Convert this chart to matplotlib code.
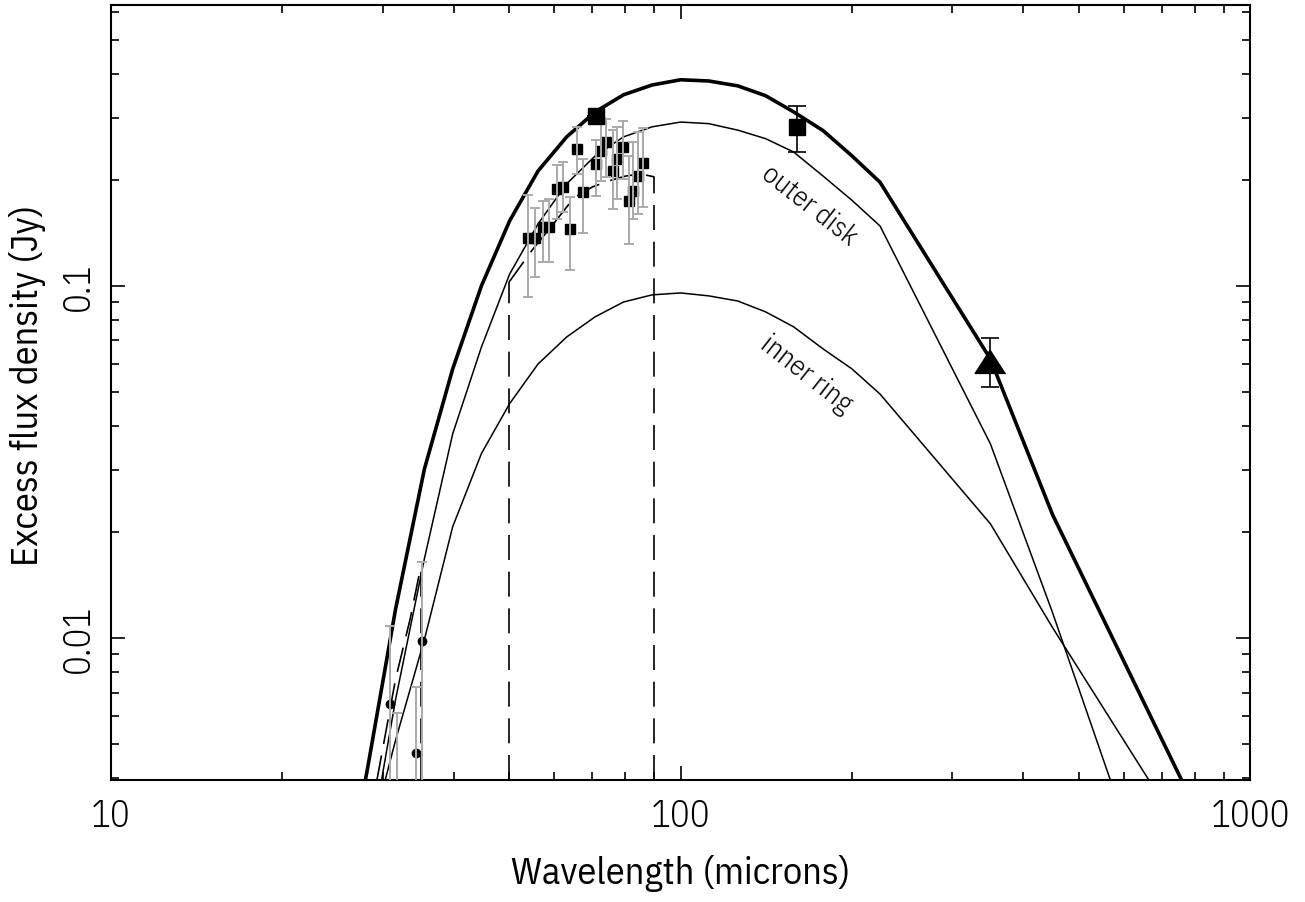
import matplotlib
matplotlib.use("Agg")
import matplotlib.pyplot as plt
from matplotlib.ticker import LogLocator, NullFormatter, FixedLocator, FixedFormatter

plt.rcParams['font.family'] = ['IBM Plex Sans Condensed', 'DejaVu Sans']
plt.rcParams['font.weight'] = 300

# model grid (microns) and SED components (Jy)
lam_model = [25.1, 28.2, 31.6, 35.5, 39.8, 44.7, 50.1, 56.2, 63.1, 70.8, 79.4, 89.1,
             100, 112, 126, 141, 158, 178, 200, 224, 350, 450, 850]
flux_total = [0.00155, 0.00425, 0.0121, 0.0302, 0.0581, 0.100, 0.153, 0.212, 0.265, 0.312,
              0.349, 0.372, 0.385, 0.382, 0.370, 0.347, 0.312, 0.276, 0.234, 0.197,
              0.062, 0.0224, 0.0027]
flux_outer = [0.0006, 0.00233, 0.0067, 0.0168, 0.038, 0.067, 0.108, 0.150, 0.195, 0.234,
              0.265, 0.283, 0.292, 0.289, 0.277, 0.262, 0.240, 0.205, 0.175, 0.148,
              0.0356, 0.0118, 0.0006]
flux_inner = [0.0012, 0.00253, 0.00513, 0.0099, 0.0207, 0.0334, 0.0463, 0.060, 0.0716,
              0.0817, 0.090, 0.0943, 0.0955, 0.0937, 0.0906, 0.0844, 0.0765, 0.0662,
              0.0581, 0.0493, 0.0211, 0.0107, 0.0021]

# model integrated over the spectral ranges (dashed)
lam_irs = [29.3, 31.6, 33.5, 35.0]
flux_irs = [0.00395, 0.00765, 0.0113, 0.0160]
lam_sed = [50, 55, 60, 65, 70, 75, 80, 85, 90]
flux_sed = [0.1026, 0.127, 0.151, 0.178, 0.191, 0.199, 0.205, 0.208, 0.204]

# MIPS SED-mode spectrum points
lam_spec = [54.0, 55.5, 57.4, 58.8, 60.7, 62.2, 64.0, 65.8, 67.4, 71.1, 72.5, 74.0,
            76.1, 77.4, 79.3, 81.2, 82.5, 84.2, 85.9]
flux_spec = [0.1369, 0.1369, 0.1471, 0.1471, 0.1886, 0.1911, 0.1452, 0.2449, 0.1849,
             0.2221, 0.2417, 0.2565, 0.2122, 0.2295, 0.2482, 0.1744, 0.1862, 0.2054, 0.2236]
spec_hi = [0.1814, 0.1666, 0.1744, 0.1767, 0.2207, 0.2251, 0.1790, 0.2829, 0.2295,
           0.2600, 0.3000, 0.2980, 0.2774, 0.2829, 0.2943, 0.2340, 0.2565, 0.2740, 0.2811]
spec_lo = [0.0931, 0.1061, 0.1170, 0.1170, 0.1550, 0.1622, 0.1110, 0.2080, 0.1415,
           0.1802, 0.1987, 0.2041, 0.1655, 0.1767, 0.2014, 0.1316, 0.1550, 0.1601, 0.1677]

# IRS excess points
lam_irs_pts = [30.9, 31.8, 34.3, 35.2]
flux_irs_pts = [0.00649, 0.0025, 0.00471, 0.0098]
irs_hi = [0.01081, 0.00612, 0.00726, 0.01644]
irs_lo = [0.001, 0.001, 0.001, 0.001]

# photometry
lam_phot = [71, 160]
flux_phot = [0.304, 0.283]
phot_hi = [0.304, 0.3246]
phot_lo = [0.304, 0.2403]
lam_submm = [350]
flux_submm = [0.0612]
submm_hi = [0.0712]
submm_lo = [0.0516]

fig = plt.figure(figsize=(13.05, 9.03), dpi=100)
ax = fig.add_axes([0.0851, 0.1351, 0.8728, 0.8583])
ax.set_xscale('log')
ax.set_yscale('log')
ax.set_xlim(10, 1000)
ax.set_ylim(0.00395, 0.628)

ax.plot(lam_model, flux_total, color='black', lw=2.6)
ax.plot(lam_model, flux_outer, color='black', lw=1.1)
ax.plot(lam_model, flux_inner, color='black', lw=1.1)

dash = (0, (15, 7))
ax.plot(lam_irs, flux_irs, color='black', lw=1.2, linestyle=dash)
ax.plot(lam_sed, flux_sed, color='black', lw=1.2, linestyle=dash)
ylo = ax.get_ylim()[0]
for lam, f in [(lam_irs[-1], flux_irs[-1]), (lam_sed[0], flux_sed[0]), (lam_sed[-1], flux_sed[-1])]:
    ax.plot([lam, lam], [ylo, f], color='black', lw=1.2, linestyle=dash)

def bars(y, lo, hi):
    return [[yy - l for yy, l in zip(y, lo)], [h - yy for yy, h in zip(y, hi)]]

ax.plot(lam_spec, flux_spec, 's', color='black', ms=7, zorder=3)
ax.errorbar(lam_spec, flux_spec, yerr=bars(flux_spec, spec_lo, spec_hi),
            fmt='none', ecolor='#aaaaaa', elinewidth=1.4, capsize=3.6, capthick=1.4, zorder=4)

ax.plot(lam_irs_pts, flux_irs_pts, 'o', color='black', ms=6, zorder=3)
ax.errorbar(lam_irs_pts, flux_irs_pts, yerr=bars(flux_irs_pts, irs_lo, irs_hi),
            fmt='none', ecolor='#aaaaaa', elinewidth=1.4, capsize=3.6, capthick=1.4, zorder=4)

ax.errorbar(lam_phot, flux_phot, yerr=bars(flux_phot, phot_lo, phot_hi),
            fmt='s', color='black', ms=12, elinewidth=1.2, capsize=6.5, capthick=1.2, zorder=5)
tri = [(0, 0.78), (-1, -0.78), (1, -0.78)]
ax.errorbar(lam_submm, flux_submm, yerr=bars(flux_submm, submm_lo, submm_hi),
            fmt='none', ecolor='black', elinewidth=1.2, capsize=6.5, capthick=1.2, zorder=5)
ax.plot(lam_submm, flux_submm, marker=tri, color='black', ms=22, linestyle='none', zorder=6)

ax.text(168, 0.170, 'outer disk', rotation=-38, fontsize=20.5, ha='center', va='center',
        rotation_mode='anchor')
ax.text(166, 0.0562, 'inner ring', rotation=-38, fontsize=20.5, ha='center', va='center',
        rotation_mode='anchor')

# axes styling: inward ticks on all four sides
for sp in ax.spines.values():
    sp.set_linewidth(1.5)
ax.tick_params(which='both', direction='in', top=True, right=True, width=1.2, labelsize=26.5)
ax.tick_params(which='major', length=10)
ax.tick_params(which='minor', length=6)
ax.tick_params(axis='x', which='major', pad=13)
ax.tick_params(axis='y', which='major', pad=10)
ax.xaxis.set_major_locator(FixedLocator([10, 100, 1000]))
ax.xaxis.set_major_formatter(FixedFormatter(['10', '100', '1000']))
ax.xaxis.set_minor_locator(LogLocator(base=10, subs=range(2, 10)))
ax.xaxis.set_minor_formatter(NullFormatter())
ax.yaxis.set_major_locator(FixedLocator([0.01, 0.1]))
ax.yaxis.set_major_formatter(FixedFormatter(['0.01', '0.1']))
ax.yaxis.set_minor_locator(LogLocator(base=10, subs=range(2, 10)))
ax.yaxis.set_minor_formatter(NullFormatter())
for lbl in ax.get_yticklabels():
    lbl.set_rotation(90)
    lbl.set_va('center')

ax.set_xlabel('Wavelength (microns)', fontsize=27.5, va='center')
ax.xaxis.set_label_coords(0.5, -0.1187)
ax.set_ylabel('Excess flux density (Jy)', fontsize=27.5, va='center')
ax.yaxis.set_label_coords(-0.0737, 0.511)

fig.savefig('out.png', dpi=100)
